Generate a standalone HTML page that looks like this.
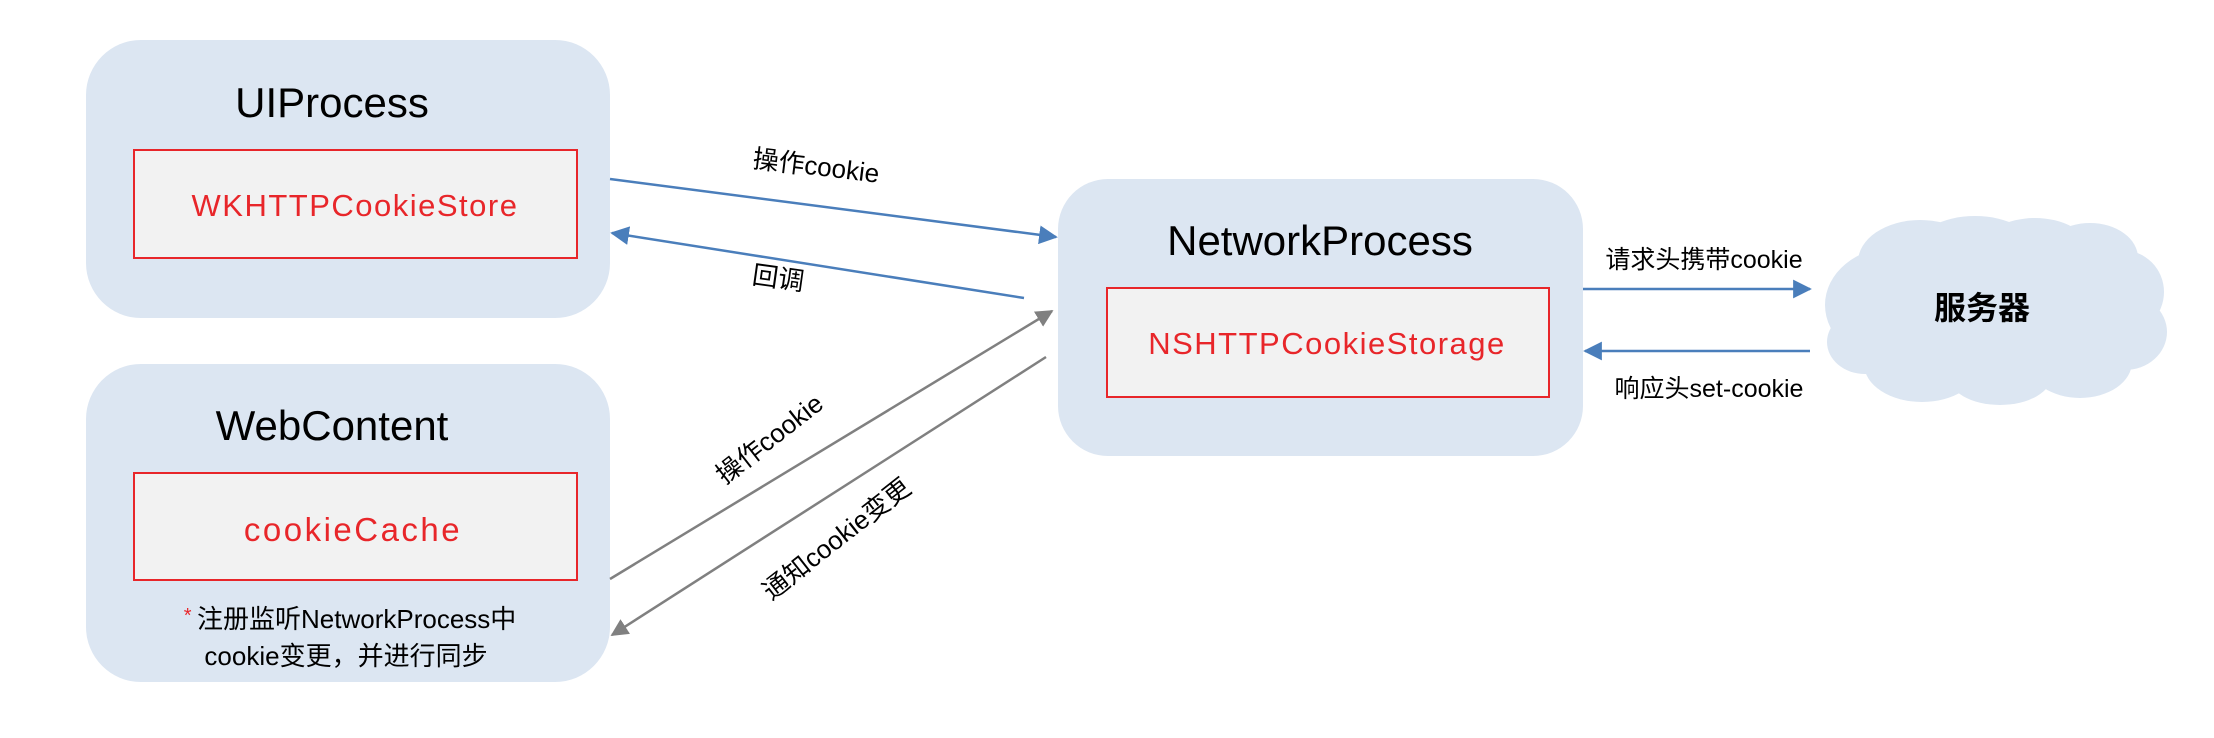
<!DOCTYPE html>
<html><head><meta charset="utf-8"><style>
html,body{margin:0;padding:0;background:#fff;}
svg{display:block;}
text{font-family:"Liberation Sans","Noto Sans CJK SC",sans-serif;}
</style></head><body>
<svg width="2214" height="738" viewBox="0 0 2214 738" xmlns="http://www.w3.org/2000/svg">
<defs>
<marker id="ab" viewBox="0 0 10 10" refX="9" refY="5" markerWidth="8" markerHeight="8" markerUnits="userSpaceOnUse" orient="auto"><path d="M0,0L10,5L0,10z" fill="#4a7ebb"/></marker>
<marker id="ab2" viewBox="0 0 10 10" refX="9" refY="5" markerWidth="7.5" markerHeight="7.5" orient="auto"><path d="M0,0L10,5L0,10z" fill="#4a7ebb"/></marker>
<marker id="ag" viewBox="0 0 10 10" refX="9" refY="5" markerWidth="7" markerHeight="7" orient="auto"><path d="M0,0L10,5L0,10z" fill="#808080"/></marker>
</defs>
<rect x="86" y="40" width="524" height="278" rx="55" fill="#dce6f2"/>
<rect x="134" y="150" width="443" height="108" fill="#f2f2f2" stroke="#e8262a" stroke-width="2"/>
<text x="332" y="117" font-size="42" text-anchor="middle" fill="#000">UIProcess</text>
<text x="355" y="216" font-size="31" text-anchor="middle" fill="#e8262a" letter-spacing="1.5">WKHTTPCookieStore</text>

<rect x="86" y="364" width="524" height="318" rx="55" fill="#dce6f2"/>
<rect x="134" y="473" width="443" height="107" fill="#f2f2f2" stroke="#e8262a" stroke-width="2"/>
<text x="332" y="440" font-size="42" text-anchor="middle" fill="#000">WebContent</text>
<text x="353" y="541" font-size="33" text-anchor="middle" fill="#e8262a" letter-spacing="2.5">cookieCache</text>
<text x="350" y="628" font-size="26" text-anchor="middle" fill="#000"><tspan fill="#e8262a" font-size="20" dy="-6">* </tspan><tspan dy="6">注册监听NetworkProcess中</tspan></text>
<text x="346" y="665" font-size="26" text-anchor="middle" fill="#000">cookie变更，并进行同步</text>

<rect x="1058" y="179" width="525" height="277" rx="50" fill="#dce6f2"/>
<rect x="1107" y="288" width="442" height="109" fill="#f2f2f2" stroke="#e8262a" stroke-width="2"/>
<text x="1320" y="255" font-size="42" text-anchor="middle" fill="#000">NetworkProcess</text>
<text x="1327" y="354" font-size="31" text-anchor="middle" fill="#e8262a" letter-spacing="1.5">NSHTTPCookieStorage</text>

<g fill="#dce6f2">
<ellipse cx="1990" cy="310" rx="145" ry="72"/>
<ellipse cx="1895" cy="305" rx="70" ry="58"/>
<ellipse cx="1920" cy="262" rx="62" ry="42"/>
<ellipse cx="1975" cy="250" rx="60" ry="34"/>
<ellipse cx="2035" cy="248" rx="52" ry="30"/>
<ellipse cx="2090" cy="258" rx="48" ry="35"/>
<ellipse cx="2122" cy="292" rx="42" ry="42"/>
<ellipse cx="2125" cy="332" rx="42" ry="38"/>
<ellipse cx="2080" cy="362" rx="52" ry="36"/>
<ellipse cx="2000" cy="375" rx="52" ry="30"/>
<ellipse cx="1922" cy="364" rx="58" ry="38"/>
<ellipse cx="1865" cy="342" rx="38" ry="32"/>
</g>
<text x="1982" y="319" font-size="32" font-weight="bold" text-anchor="middle" fill="#000">服务器</text>

<line x1="610" y1="179" x2="1056" y2="237" stroke="#4a7ebb" stroke-width="2.5" marker-end="url(#ab2)"/>
<line x1="1024" y1="298" x2="612" y2="233" stroke="#4a7ebb" stroke-width="2.5" marker-end="url(#ab2)"/>
<line x1="610" y1="579" x2="1052" y2="311" stroke="#808080" stroke-width="2.5" marker-end="url(#ag)"/>
<line x1="1046" y1="357" x2="612" y2="635" stroke="#808080" stroke-width="2.5" marker-end="url(#ag)"/>
<line x1="1583" y1="289" x2="1810" y2="289" stroke="#4a7ebb" stroke-width="2.5" marker-end="url(#ab2)"/>
<line x1="1810" y1="351" x2="1585" y2="351" stroke="#4a7ebb" stroke-width="2.5" marker-end="url(#ab2)"/>

<text font-size="26" fill="#000" text-anchor="middle" transform="translate(815,175) rotate(7)">操作cookie</text>
<text font-size="26" fill="#000" text-anchor="middle" transform="translate(777,287) rotate(8)">回调</text>
<text font-size="26" fill="#000" text-anchor="middle" transform="translate(775,446) rotate(-38)">操作cookie</text>
<text font-size="26" fill="#000" text-anchor="middle" transform="translate(842,546) rotate(-38)">通知cookie变更</text>
<text x="1704" y="268" font-size="25" fill="#000" text-anchor="middle">请求头携带cookie</text>
<text x="1709" y="397" font-size="25" fill="#000" text-anchor="middle">响应头set-cookie</text>
</svg>
</body></html>
